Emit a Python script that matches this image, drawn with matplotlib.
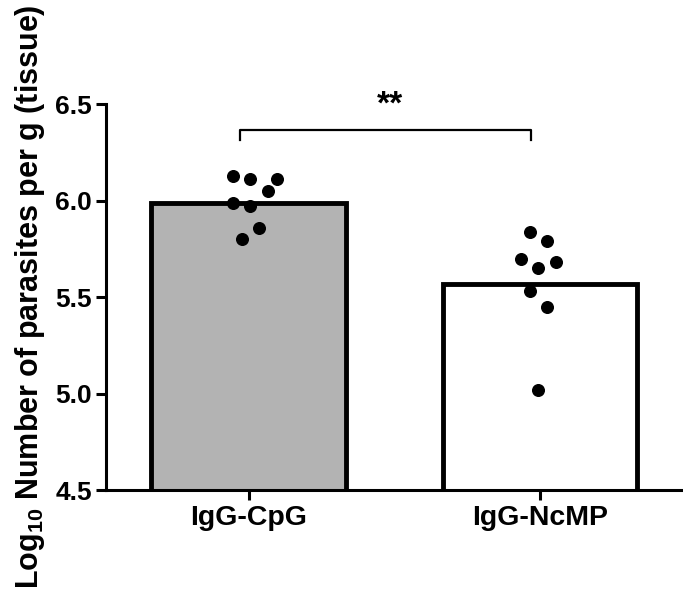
import numpy as np
import matplotlib
matplotlib.use("Agg")
import matplotlib.pyplot as plt

plt.rcParams['font.family'] = ['Liberation Sans', 'DejaVu Sans']
plt.rcParams['font.weight'] = 'bold'
plt.rcParams['mathtext.fontset'] = 'custom'
plt.rcParams['mathtext.rm'] = 'Liberation Sans:bold'
plt.rcParams['mathtext.bf'] = 'Liberation Sans:bold'

# Daten
groups = ['IgG-CpG', 'IgG-NcMP']
bar_means = [5.99, 5.57]
bar_colors = ['#b3b3b3', 'white']
points_cpg = [6.13, 6.11, 6.11, 6.05, 5.99, 5.97, 5.86, 5.80]
points_ncmp = [5.84, 5.79, 5.70, 5.65, 5.68, 5.53, 5.45, 5.02]
jitter_cpg = [-0.055, 0.003, 0.096, 0.065, -0.055, 0.003, 0.034, -0.024]
jitter_ncmp = [-0.034, 0.024, -0.065, -0.007, 0.055, -0.034, 0.024, -0.007]
sig_label = '**'
sig_level = 6.365

fig = plt.figure(figsize=(6.83, 5.92), dpi=100)
ax = fig.add_axes([0.155, 0.172, 0.845, 0.652])

x = np.arange(len(groups))
ax.bar(x, bar_means, width=0.667, color=bar_colors, edgecolor='black',
       linewidth=3.5, zorder=2)

for xi, pts, jit in [(0, points_cpg, jitter_cpg), (1, points_ncmp, jitter_ncmp)]:
    ax.scatter(xi + np.array(jit), pts, s=70, color='black', zorder=3, clip_on=False)

# Signifikanzklammer
ax.plot([0 - 0.03, 0 - 0.03, 1 - 0.03, 1 - 0.03],
        [sig_level - 0.05, sig_level, sig_level, sig_level - 0.05],
        color='black', linewidth=1.6, clip_on=False)
ax.text(0.485, sig_level + 0.05, sig_label, ha='center', va='bottom',
        fontsize=24, fontweight='bold')

ax.set_xlim(-0.49, 1.49)
ax.set_ylim(4.5, 6.5)
ax.set_yticks([4.5, 5.0, 5.5, 6.0, 6.5])
ax.set_yticklabels(['4.5', '5.0', '5.5', '6.0', '6.5'])
ax.set_xticks(x)
ax.set_xticklabels(groups)

for side in ['top', 'right']:
    ax.spines[side].set_visible(False)
for side in ['left', 'bottom']:
    ax.spines[side].set_linewidth(2.2)
ax.tick_params(axis='both', width=2.2, length=7, labelsize=19)
ax.tick_params(axis='y', pad=3)
ax.tick_params(axis='x', labelsize=20.5, pad=4)

ax.set_ylabel(r'Log$_{10}$ Number of parasites per g (tissue)',
              fontsize=22, fontweight='bold', labelpad=6)

fig.savefig('out.png', dpi=100)
